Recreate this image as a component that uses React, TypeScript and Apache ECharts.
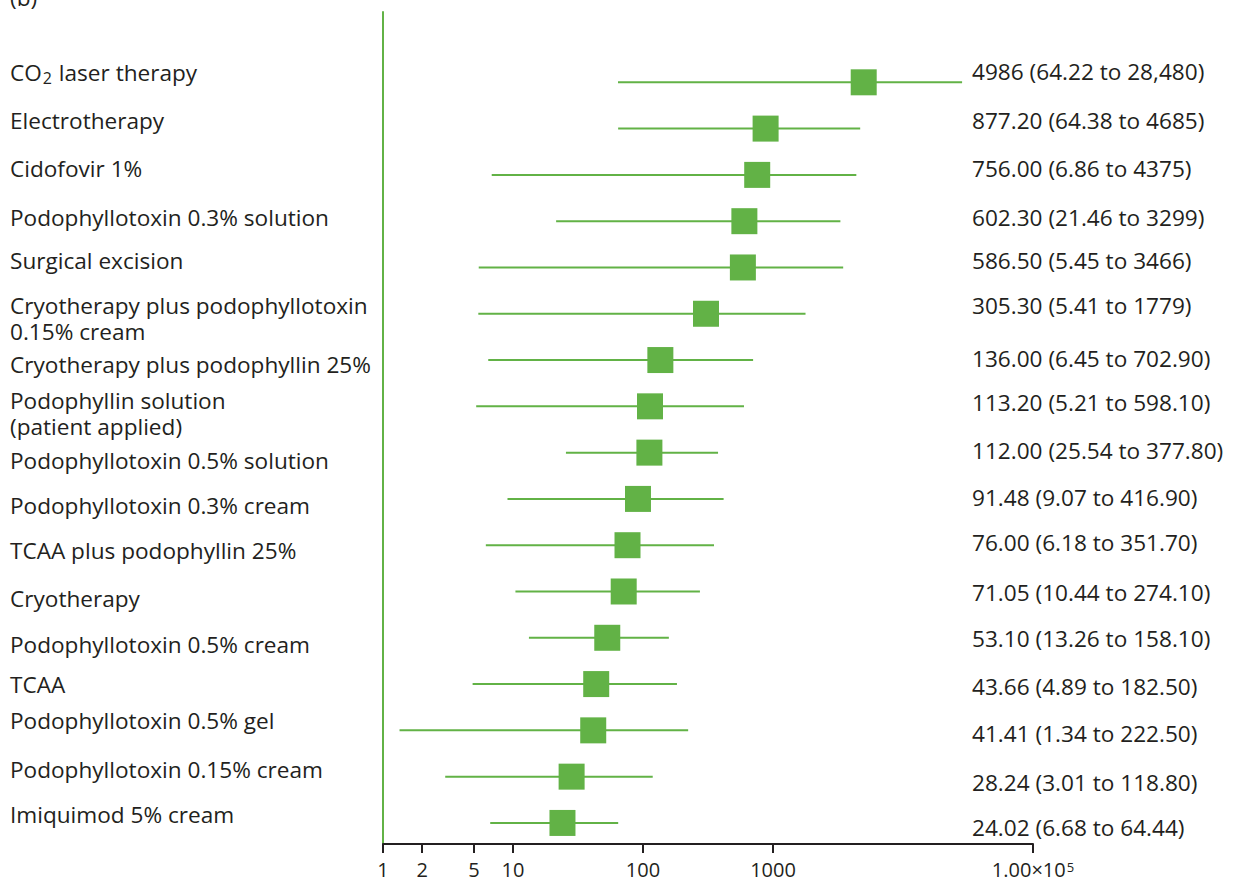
import { useEffect, useRef } from 'react';
import * as echarts from 'echarts';

// Treatments, top to bottom; "\n" marks where a long name wraps.
const TREATMENTS = [
  'CO2 laser therapy',
  'Electrotherapy',
  'Cidofovir 1%',
  'Podophyllotoxin 0.3% solution',
  'Surgical excision',
  'Cryotherapy plus podophyllotoxin\n0.15% cream',
  'Cryotherapy plus podophyllin 25%',
  'Podophyllin solution\n(patient applied)',
  'Podophyllotoxin 0.5% solution',
  'Podophyllotoxin 0.3% cream',
  'TCAA plus podophyllin 25%',
  'Cryotherapy',
  'Podophyllotoxin 0.5% cream',
  'TCAA',
  'Podophyllotoxin 0.5% gel',
  'Podophyllotoxin 0.15% cream',
  'Imiquimod 5% cream',
];

// Point estimates and interval bounds.
const ESTIMATE = [
  4986, 877.2, 756.0, 602.3, 586.5, 305.3, 136.0, 113.2, 112.0, 91.48, 76.0, 71.05, 53.1, 43.66,
  41.41, 28.24, 24.02,
];
const LOWER = [
  64.22, 64.38, 6.86, 21.46, 5.45, 5.41, 6.45, 5.21, 25.54, 9.07, 6.18, 10.44, 13.26, 4.89, 1.34,
  3.01, 6.68,
];
const UPPER = [
  28480, 4685, 4375, 3299, 3466, 1779, 702.9, 598.1, 377.8, 416.9, 351.7, 274.1, 158.1, 182.5,
  222.5, 118.8, 64.44,
];

// Tick marks on the log axis.
const AXIS_TICKS = [1, 2, 5, 10, 100, 1000, 100000];

const PANEL_TAG = '(b)';

// Layout
const W = 1235;
const H = 880;
const GREEN = '#62b246';
const INK = '#231f20';
const FONT = '"Open Sans", "Noto Sans", sans-serif';
const LABEL_SIZE = 22.6;
const WRAP_GAP = 26.7;
const LEFT_X = 10;
const RIGHT_X = 972;
const LEFT_LABEL_Y = [71, 120, 168, 217, 260, 305, 364, 400, 460, 505, 550, 598, 644, 684, 720, 769, 814];
const RIGHT_LABEL_Y = [71, 120, 168, 217, 260, 305, 358, 402, 450, 497, 542, 592, 638, 686, 733, 782, 827];
const ROW_MIN = -1.519;
const ROW_MAX = 16.455;

const fmt = (v: number): string => {
  if (v >= 10000) return v.toLocaleString('en-US', { maximumFractionDigits: 0 });
  if (v >= 1000) return String(Math.round(v));
  return v.toFixed(2);
};

const hasSub = (line: string) => line.includes('CO2');

const richLine = (line: string): string =>
  '{t|' + line.replace('CO2', 'CO}{sub|2}{t|') + '}';

const textRich = {
  t: { fontFamily: FONT, fontSize: LABEL_SIZE, lineHeight: 24, fill: INK, color: INK },
  // subscript: extra top padding pushes the small digit below the baseline
  sub: {
    fontFamily: FONT,
    fontSize: 16,
    lineHeight: 16,
    fill: INK,
    color: INK,
    padding: [11, 1, 0, 1],
  },
};

const tickLabel = (v: number): string => {
  const raw = Math.pow(10, v);
  if (raw >= 10000) {
    const e = Math.round(v);
    return '{b|' + (raw / Math.pow(10, e)).toFixed(2) + '×10}{sup|' + e + '}';
  }
  return '{b|' + Math.round(raw) + '}';
};

export default function App() {
  const ref = useRef<HTMLDivElement>(null);

  useEffect(() => {
    if (!ref.current) return;
    const chart = echarts.init(ref.current, null, { renderer: 'svg' });

    const graphics: any[] = [
      {
        type: 'text',
        style: {
          text: PANEL_TAG,
          x: LEFT_X,
          y: -3,
          fontFamily: FONT,
          fontSize: LABEL_SIZE,
          fill: INK,
          verticalAlign: 'middle',
        },
      },
    ];

    TREATMENTS.forEach((name, i) => {
      name.split('\n').forEach((line, k) => {
        const y = LEFT_LABEL_Y[i] + k * WRAP_GAP;
        graphics.push({
          type: 'text',
          style: hasSub(line)
            ? {
                text: richLine(line),
                rich: textRich,
                x: LEFT_X,
                y: y + 1.5,
                align: 'left',
                verticalAlign: 'middle',
                fontFamily: FONT,
                fontSize: LABEL_SIZE,
                fill: INK,
              }
            : {
                text: line,
                x: LEFT_X,
                y,
                align: 'left',
                verticalAlign: 'middle',
                fontFamily: FONT,
                fontSize: LABEL_SIZE,
                fill: INK,
              },
        });
      });
      graphics.push({
        type: 'text',
        style: {
          text: `${fmt(ESTIMATE[i])} (${fmt(LOWER[i])} to ${fmt(UPPER[i])})`,
          x: RIGHT_X,
          y: RIGHT_LABEL_Y[i],
          align: 'left',
          verticalAlign: 'middle',
          fontFamily: FONT,
          fontSize: LABEL_SIZE,
          fill: INK,
        },
      });
    });

    const tickPos = AXIS_TICKS.map((t) => Math.log10(t));

    chart.setOption({
      animation: false,
      backgroundColor: '#ffffff',
      grid: { left: 383, right: W - 1033, top: 12, bottom: H - 844 },
      xAxis: {
        type: 'value',
        min: 0,
        max: 5,
        position: 'bottom',
        axisLine: { show: true, onZero: false, lineStyle: { color: INK, width: 2 } },
        axisTick: {
          show: true,
          customValues: tickPos,
          length: 9,
          lineStyle: { color: INK, width: 2 },
        },
        axisLabel: {
          show: true,
          customValues: tickPos,
          formatter: tickLabel,
          margin: 16,
          rich: {
            b: { fontFamily: FONT, fontSize: 20, lineHeight: 18, color: INK },
            sup: {
              fontFamily: FONT,
              fontSize: 13,
              lineHeight: 10,
              verticalAlign: 'top',
              color: INK,
              padding: [0, 0, 0, 1],
            },
          },
        },
        splitLine: { show: false },
      },
      yAxis: {
        type: 'value',
        inverse: true,
        min: ROW_MIN,
        max: ROW_MAX,
        axisLine: { show: true, onZero: false, lineStyle: { color: GREEN, width: 2 } },
        axisTick: { show: false },
        axisLabel: { show: false },
        splitLine: { show: false },
      },
      series: [
        {
          type: 'custom',
          name: 'interval',
          data: TREATMENTS.map((_, i) => [Math.log10(LOWER[i]), Math.log10(UPPER[i]), i]),
          encode: { x: [0, 1], y: 2 },
          renderItem: (_params: any, api: any) => {
            const a = api.coord([api.value(0), api.value(2)]);
            const b = api.coord([api.value(1), api.value(2)]);
            return {
              type: 'line',
              shape: { x1: a[0], y1: a[1], x2: b[0], y2: b[1] },
              style: { stroke: GREEN, lineWidth: 2 },
            };
          },
          z: 2,
        },
        {
          type: 'scatter',
          name: 'estimate',
          data: TREATMENTS.map((_, i) => [Math.log10(ESTIMATE[i]), i]),
          symbol: 'rect',
          symbolSize: 26,
          itemStyle: { color: GREEN, opacity: 1 },
          z: 3,
        },
      ],
      graphic: graphics,
    });

    return () => chart.dispose();
  }, []);

  return (
    <div
      ref={ref}
      style={{ position: 'absolute', left: 0, top: 0, width: W, height: H, background: '#fff' }}
    />
  );
}
